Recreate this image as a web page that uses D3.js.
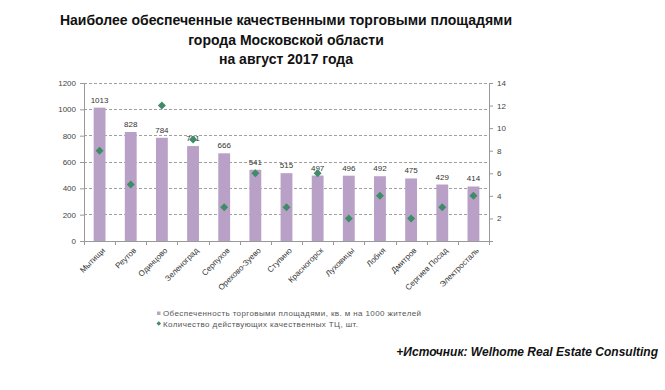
<!DOCTYPE html>
<html><head><meta charset="utf-8">
<script src="https://cdn.jsdelivr.net/npm/d3@7"></script>
<style>body{margin:0;background:#fff;}svg{display:block;}</style>
</head><body>
<script>
const categories = ["Мытищи","Реутов","Одинцово","Зеленоград","Серпухов","Орехово-Зуево","Ступино","Красногорск","Луховицы","Лобня","Дмитров","Сергиев Посад","Электросталь"];
const areaValues = [1013,828,784,721,666,541,515,497,496,492,475,429,414];
const mallCounts = [8,5,12,9,3,6,3,6,2,4,2,3,4];
const leftTicks = [0,200,400,600,800,1000,1200];
const rightTicks = [2,4,6,8,10,12,14];
const titleLines = ["Наиболее обеспеченные качественными торговыми площадями","города Московской области","на август 2017 года"];
const legendLabels = ["Обеспеченность торговыми площадями, кв. м на 1000 жителей","Количество действующих качественных ТЦ, шт."];
const sourceText = "+Источник: Welhome Real Estate Consulting";

const W=665,H=390;
const svg=d3.select("body").append("svg").attr("width",W).attr("height",H).style("font-family","Arial, 'Liberation Sans', sans-serif");
const x0=84,x1=489,yTop=83,yBot=241;
const x=d3.scaleBand().domain(categories).range([x0,x1]).paddingInner(0.62).paddingOuter(0.31);
const yL=d3.scaleLinear().domain([0,1200]).range([yBot,yTop]);
const yR=d3.scaleLinear().domain([0,14]).range([yBot,yTop]);

// title
svg.append("g").selectAll("text").data(titleLines).join("text")
 .attr("x",286).attr("y",(d,i)=>25+i*19.5).attr("text-anchor","middle")
 .attr("font-weight","bold").attr("font-size",14).attr("fill","#111").text(d=>d);

// gridlines
svg.append("g").selectAll("line").data(leftTicks.filter(d=>d>0)).join("line")
 .attr("x1",x0).attr("x2",x1).attr("y1",d=>yL(d)).attr("y2",d=>yL(d))
 .attr("stroke","#a0a0a0").attr("stroke-dasharray","3,2").attr("stroke-width",1).attr("shape-rendering","crispEdges");

// left axis
const gL=svg.append("g").attr("transform",`translate(${x0},0)`).call(d3.axisLeft(yL).tickValues(leftTicks).tickSize(4).tickPadding(4).tickFormat(d3.format("d")));
gL.select(".domain").attr("stroke","#999");
gL.selectAll(".tick line").attr("stroke","#999");
gL.selectAll("text").attr("font-size",8).attr("fill","#444").attr("font-family","Arial, 'Liberation Sans', sans-serif");

// right axis
const gR=svg.append("g").attr("transform",`translate(${x1},0)`).call(d3.axisRight(yR).tickValues([0].concat(rightTicks)).tickSize(4).tickPadding(4).tickFormat(d=>d===0?"":d));
gR.select(".domain").attr("stroke","#999");
gR.selectAll(".tick line").attr("stroke","#999");
gR.selectAll("text").attr("font-size",8).attr("fill","#444").attr("font-family","Arial, 'Liberation Sans', sans-serif");

// bars
svg.append("g").selectAll("rect").data(categories).join("rect")
 .attr("x",d=>x(d)).attr("width",x.bandwidth())
 .attr("y",(d,i)=>yL(areaValues[i])).attr("height",(d,i)=>yBot-yL(areaValues[i]))
 .attr("fill","#b9a0c6");

// bottom axis
const step=x.step();
svg.append("line").attr("x1",x0).attr("x2",x1).attr("y1",yBot+0.5).attr("y2",yBot+0.5).attr("stroke","#999");
svg.append("g").selectAll("line").data(d3.range(categories.length+1)).join("line")
 .attr("x1",i=>Math.round(x0+i*step)+0.5).attr("x2",i=>Math.round(x0+i*step)+0.5)
 .attr("y1",yBot).attr("y2",yBot+4).attr("stroke","#999");

// data labels
svg.append("g").selectAll("text").data(categories).join("text")
 .attr("x",d=>x(d)+x.bandwidth()/2).attr("y",(d,i)=>yL(areaValues[i])-5)
 .attr("text-anchor","middle").attr("font-size",8).attr("fill","#333").text((d,i)=>areaValues[i]);

// diamonds
svg.append("g").selectAll("path").data(categories).join("path")
 .attr("transform",(d,i)=>`translate(${x(d)+x.bandwidth()/2},${yR(mallCounts[i])})`)
 .attr("d","M0,-4L4,0L0,4L-4,0Z").attr("fill","#3e8c68");

// x labels
svg.append("g").selectAll("text").data(categories).join("text")
 .attr("transform",d=>`translate(${x(d)+x.bandwidth()/2+4},${yBot+8}) rotate(-45)`)
 .attr("text-anchor","end").attr("dy","0.35em").attr("font-size",8).attr("fill","#333").text(d=>d);

// legend
const lg=svg.append("g");
lg.append("rect").attr("x",157).attr("y",311.5).attr("width",3.5).attr("height",3.5).attr("fill","#b8a8c0");
lg.append("path").attr("transform","translate(158.8,323.5)").attr("d","M0,-2.3L2.3,0L0,2.3L-2.3,0Z").attr("fill","#3e8c68");
lg.selectAll("text").data(legendLabels).join("text")
 .attr("x",163).attr("y",(d,i)=>316+i*11).attr("font-size",8).attr("letter-spacing",0.4).attr("fill","#555").text(d=>d);

// source
svg.append("text").attr("x",658).attr("y",356).attr("text-anchor","end")
 .attr("font-weight","bold").attr("font-style","italic").attr("font-size",12).attr("fill","#111").text(sourceText);
</script>
</body></html>
